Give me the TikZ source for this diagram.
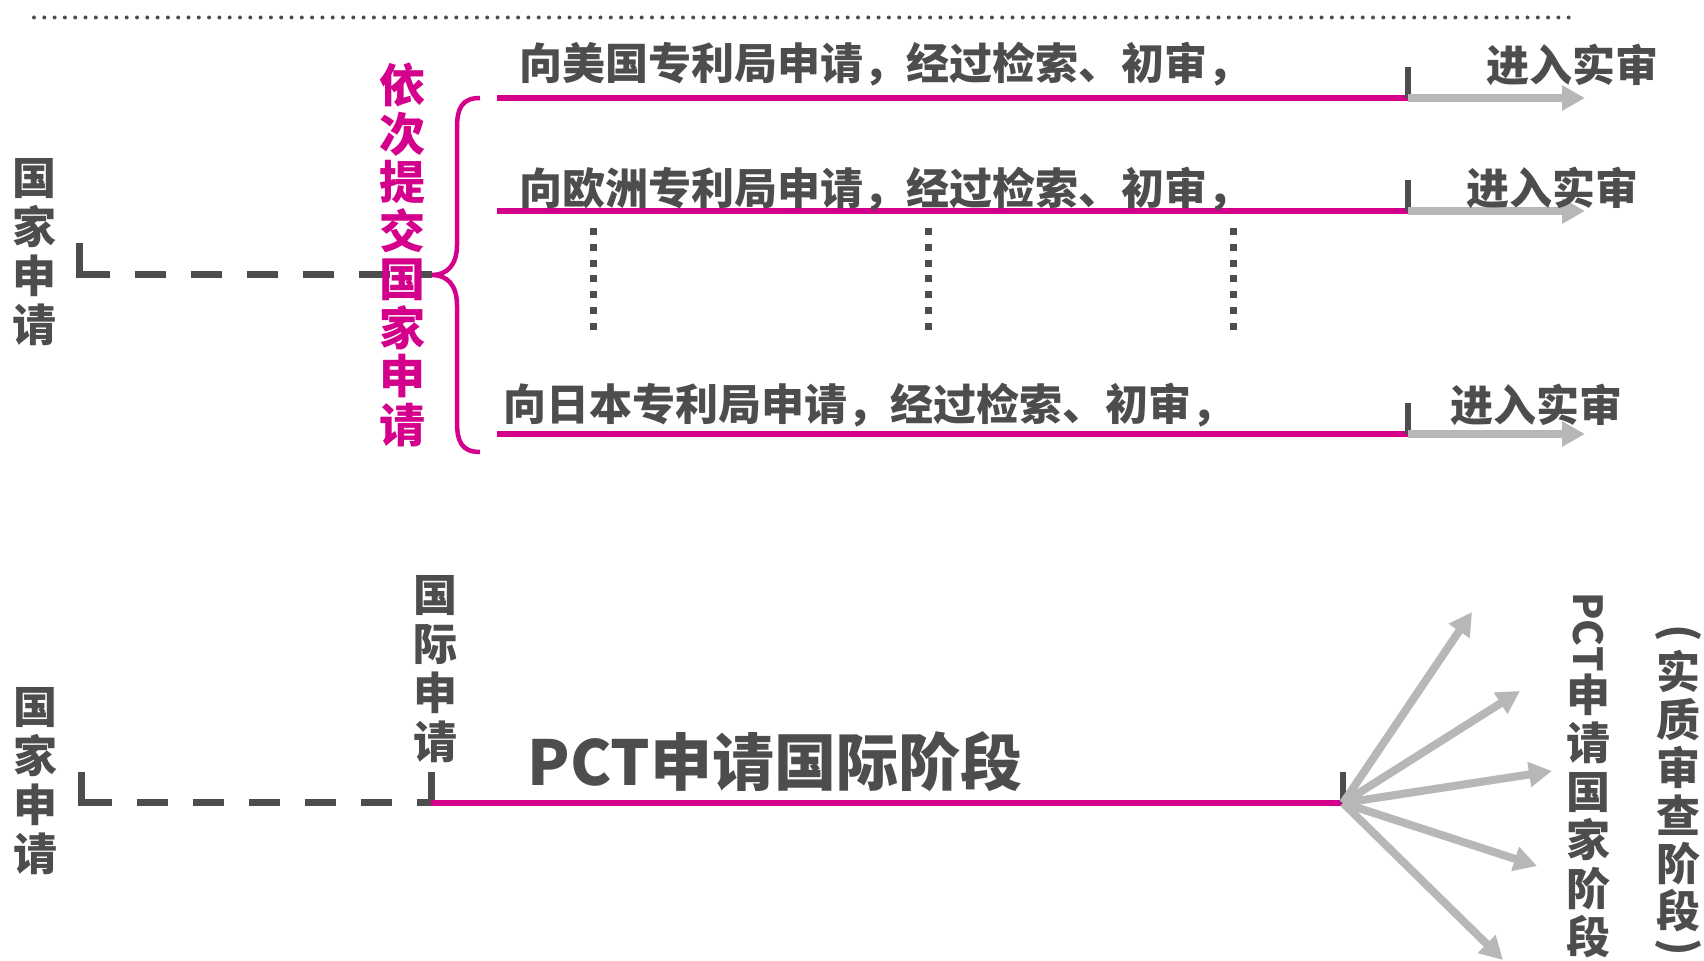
\documentclass[tikz,border=0pt]{standalone}
\usepackage{fontspec}
\setmainfont{Noto Sans CJK SC}
\usepackage{graphicx}
\usetikzlibrary{arrows.meta}
\definecolor{pctmagenta}{HTML}{D4008C}
\definecolor{pctdark}{HTML}{4D4D4D}
\definecolor{pctgrey}{HTML}{B7B7B7}
\tikzset{
  rowtext/.style={anchor=west, inner sep=0pt, text=pctdark, font=\fontsize{21.5pt}{24pt}\selectfont\bfseries},
  stacktext/.style={inner sep=0pt, align=center, text=pctdark, font=\fontsize{22pt}{24.5pt}\selectfont\bfseries},
  darkdash/.style={line width=3.5pt, pctdark, dash pattern=on 15.5pt off 12.5pt},
  darkdots/.style={line width=3.5pt, pctdark, dash pattern=on 3.5pt off 4.4pt}
}
\newcommand{\pctrow}[3] {\node at (#1) (#2) [rowtext] {#3};}
\newcommand{\pctstage}[3] {\node at (#1) (#2) [stacktext] {#3};}
\newcommand{\pctline}[2] {\draw [line width=2.75pt, pctmagenta] (#1) -- (#2);}
\newcommand{\pcttick}[2] {\draw [line width=3pt, pctdark] (#1) -- (#2);}
\newcommand{\pctstub}[2] {\draw [line width=3.5pt, pctdark] (#1) -- (#2);}
\newcommand{\pctgo}[2] {\draw [line width=4pt, pctgrey, -{Triangle[length=11.5pt, width=12pt]}] (#1) -- (#2);}

\begin{document}
\begin{tikzpicture}[x=0.5pt, y=-0.5pt]
\useasboundingbox (0,0) rectangle (1704,961);

% dotted rule on top
\coordinate (rulea) at (34,17.5);
\coordinate (ruleb) at (1575,17.5);
\draw [pctdark, line width=2pt, line cap=round, dash pattern=on 0pt off 5.15pt] (rulea) -- (ruleb);

% national route
\coordinate (nata) at (79,243);
\coordinate (natb) at (79,278.5);
\coordinate (natc) at (79,275);
\coordinate (bracetip) at (432,275);
\coordinate (bracetop) at (480,98);
\coordinate (bracebot) at (480,452);
\pctstub {nata}{natb}
\draw [darkdash] (natc) -- (bracetip);
\draw [pctmagenta, line width=2.25pt] (bracetop) .. controls (462,98) and (457,108) .. (457,128) -- (457,245)
  .. controls (457,265) and (447,275) .. (bracetip)
  .. controls (447,275) and (457,285) .. (457,305) -- (457,422)
  .. controls (457,442) and (462,452) .. (bracebot);

\coordinate (usa) at (497,98);
\coordinate (usb) at (1408,98);
\coordinate (usc) at (1585,98);
\coordinate (ustick) at (1408,67);
\coordinate (epa) at (497,211);
\coordinate (epb) at (1408,211);
\coordinate (epc) at (1585,211);
\coordinate (eptick) at (1408,180);
\coordinate (jpa) at (497,434);
\coordinate (jpb) at (1408,434);
\coordinate (jpc) at (1585,434);
\coordinate (jptick) at (1408,403);

\pctline {usa}{usb}
\pctline {epa}{epb}
\pctline {jpa}{jpb}
\pcttick {ustick}{usb}
\pcttick {eptick}{epb}
\pcttick {jptick}{jpb}
\pctgo {usb}{usc}
\pctgo {epb}{epc}
\pctgo {jpb}{jpc}

\coordinate (moreaa) at (593,228);
\coordinate (moreab) at (593,330);
\coordinate (moreba) at (928,228);
\coordinate (morebb) at (928,330);
\coordinate (moreca) at (1233,228);
\coordinate (morecb) at (1233,330);
\draw [darkdots] (moreaa) -- (moreab);
\draw [darkdots] (moreba) -- (morebb);
\draw [darkdots] (moreca) -- (morecb);

\pctrow {519,64}{usrow}{向美国专利局申请，经过检索、初审，}
\pctrow {519,189}{eprow}{向欧洲专利局申请，经过检索、初审，}
\pctrow {503,405}{jprow}{向日本专利局申请，经过检索、初审，}
\node at (1572,65) (usexam) [rowtext, anchor=center] {进入实审};
\node at (1552,188) (epexam) [rowtext, anchor=center] {进入实审};
\node at (1536,405) (jpexam) [rowtext, anchor=center] {进入实审};

\pctstage {34,252.5}{natup}{国\\家\\申\\请}
\node at (402,255) (oneafter) [stacktext, text=pctmagenta, font=\fontsize{23pt}{24.25pt}\selectfont\bfseries] {依\\次\\提\\交\\国\\家\\申\\请};

% PCT route
\coordinate (intla) at (81,772);
\coordinate (intlb) at (81,806.5);
\coordinate (intlc) at (81,803);
\coordinate (intld) at (431,803);
\coordinate (intle) at (431,772);
\coordinate (intlf) at (431,806.5);
\coordinate (pctend) at (1343,803);
\coordinate (pcttop) at (1343,772);
\coordinate (fana) at (1472,612);
\coordinate (fanb) at (1520,691);
\coordinate (fanc) at (1552,771);
\coordinate (fand) at (1537,866);
\coordinate (fane) at (1503,960);

\pctstub {intla}{intlb}
\draw [darkdash] (intlc) -- (intld);
\pctstub {intle}{intlf}
\pctline {intld}{pctend}
\pcttick {pcttop}{pctend}
\pctgo {pctend}{fana}
\pctgo {pctend}{fanb}
\pctgo {pctend}{fanc}
\pctgo {pctend}{fand}
\pctgo {pctend}{fane}

\pctstage {35,781}{natdown}{国\\家\\申\\请}
\pctstage {435,669}{intlapp}{国\\际\\申\\请}
\node at (775,762) (intlphase) [inner sep=0pt, text=pctdark, font=\fontsize{31pt}{34pt}\selectfont\bfseries] {PCT申请国际阶段};

\node at (1588,632) (pctv) [rotate=-90, inner sep=0pt, text=pctdark, font=\fontsize{20pt}{24pt}\selectfont\bfseries] {PCT};
\node at (1588,816) (natphase) [stacktext, font=\fontsize{22pt}{24.25pt}\selectfont\bfseries] {申\\请\\国\\家\\阶\\段};
\node at (1678,791.5) (exphase) [stacktext, font=\fontsize{22pt}{23.9pt}\selectfont\bfseries] {实\\质\\审\\查\\阶\\段};
\node at (1678,633) (exopen) [rotate=-90, inner sep=0pt, text=pctdark, font=\fontsize{22pt}{24.5pt}\selectfont\bfseries] {(};
\node at (1678,947) (exclose) [rotate=-90, inner sep=0pt, text=pctdark, font=\fontsize{22pt}{24.5pt}\selectfont\bfseries] {)};
\end{tikzpicture}
\end{document}
